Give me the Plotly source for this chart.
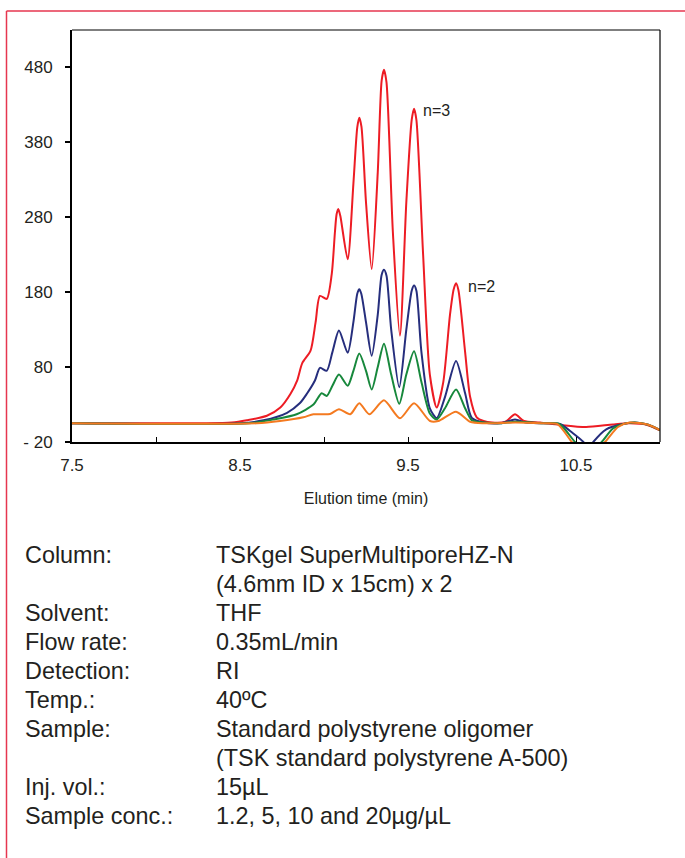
import plotly.graph_objects as go

# ---------------- data ----------------
red_x = [7.50, 8.30, 8.45, 8.54, 8.66, 8.74, 8.80, 8.84, 8.87, 8.92, 8.95, 8.976, 9.016, 9.046, 9.065,
         9.075, 9.085, 9.097, 9.141, 9.175, 9.198, 9.21, 9.223, 9.25, 9.284, 9.32, 9.343, 9.357, 9.372,
         9.41, 9.452, 9.49, 9.522, 9.536, 9.55, 9.59, 9.63, 9.671, 9.71, 9.75, 9.772, 9.786, 9.80,
         9.84, 9.87, 9.909, 9.95, 10.0, 10.08, 10.137, 10.19, 10.286, 10.40, 10.56, 10.72, 10.82,
         10.92, 11.0]
red_y = [5, 5, 6, 9, 15, 26, 44, 62, 85, 102, 140, 175, 171, 204, 260,
         284, 291, 282, 224, 325, 400, 413, 401, 300, 211, 340, 462, 477, 460,
         260, 122, 300, 410, 425, 410, 230, 70, 26, 60, 150, 184, 192, 183,
         100, 40, 13, 8, 6, 7, 17, 8, 6, 3, 0, 3.5, 5,
         3, -4.4]

navy_x = [7.5, 8.5, 8.64, 8.78, 8.857, 8.897, 8.946, 8.976, 9.016, 9.05, 9.089, 9.141, 9.175, 9.198,
          9.21, 9.222, 9.25, 9.284, 9.32, 9.343, 9.357, 9.372, 9.40, 9.448, 9.49, 9.522, 9.536, 9.55,
          9.58, 9.63, 9.671, 9.72, 9.786, 9.84, 9.88, 9.95, 10.05, 10.137, 10.2, 10.3, 10.405, 10.48,
          10.544, 10.574, 10.603, 10.68, 10.78, 10.85, 10.93, 11.0]
navy_y = [5, 5, 9, 19, 32, 44, 62, 79, 75, 100, 129, 99, 140, 178,
          184, 178, 140, 95, 150, 203, 210, 202, 130, 53, 130, 182, 189, 182,
          100, 25, 12, 40, 88, 45, 12, 6, 5, 10, 6, 5, 4, -8,
          -20, -30, -20, -3, 4, 6, 3, -4]

green_x = [7.5, 8.55, 8.698, 8.837, 8.937, 8.986, 9.016, 9.05, 9.089, 9.141, 9.175, 9.21, 9.25, 9.284,
           9.32, 9.357, 9.40, 9.448, 9.49, 9.536, 9.58, 9.63, 9.671, 9.72, 9.786, 9.84, 9.88, 9.95,
           10.05, 10.14, 10.3, 10.40, 10.494, 10.57, 10.653, 10.72, 10.8, 10.85, 10.93, 11.0]
green_y = [5, 5, 10, 17, 30, 45, 41.5, 55, 70, 55, 75, 98, 75, 50,
           80, 111, 70, 31, 70, 101, 60, 18, 10, 25, 50, 25, 9, 6,
           5, 7, 5, 4, -20, -38, -20, -2, 5, 6, 3, -4]

orange_x = [7.5, 8.6, 8.738, 8.877, 8.937, 9.036, 9.089, 9.156, 9.21, 9.27, 9.357, 9.452, 9.536,
            9.631, 9.68, 9.786, 9.87, 9.95, 10.14, 10.3, 10.39, 10.475, 10.57, 10.673, 10.75, 10.82,
            10.93, 11.0]
orange_y = [5, 5, 8, 13, 17, 17.5, 23.7, 17, 31.7, 17, 35.7, 11.7, 31.7,
            8, 8, 20.5, 7, 5, 6, 5, 4, -20, -42, -20, 0, 6,
            3, -4]

y_tickvals = [-20, 80, 180, 280, 380, 480]
y_ticktext = ["- 20", "80", "180", "280", "380", "480"]
x_tickvals = [7.5, 8.0, 8.5, 9.0, 9.5, 10.0, 10.5]
x_ticktext = ["7.5", "", "8.5", "", "9.5", "", "10.5"]

peak_labels = ["n=3", "n=2"]
peak_label_x = [9.58, 9.845]
peak_label_y = [422, 187]

cond_labels = ["Column:", "", "Solvent:", "Flow rate:", "Detection:", "Temp.:", "Sample:", "",
               "Inj. vol.:", "Sample conc.:"]
cond_values = ["TSKgel SuperMultiporeHZ-N", "(4.6mm ID x 15cm) x 2", "THF", "0.35mL/min", "RI",
               "40ºC", "Standard polystyrene oligomer", "(TSK standard polystyrene A-500)",
               "15µL", "1.2, 5, 10 and 20µg/µL"]

# ---------------- figure ----------------
W, H = 685, 858
L, R, T, B = 72, 25, 30, 416
PW = W - L - R
PH = H - T - B
FONT = "Liberation Sans, Arial, sans-serif"
TXT = "#231f20"


def px_to_paper_x(px):
    return (px - L) / PW


def py_to_paper_y(py):
    return (H - B - py) / PH


fig = go.Figure()
for xs, ys, col in [(red_x, red_y, "#ed1c24"), (navy_x, navy_y, "#262e7d"),
                    (green_x, green_y, "#17883c"), (orange_x, orange_y, "#f47a20")]:
    fig.add_trace(go.Scatter(x=xs, y=ys, mode="lines",
                             line=dict(color=col, width=2, shape="spline", smoothing=0.7),
                             showlegend=False, hoverinfo="skip"))

for t, x, y in zip(peak_labels, peak_label_x, peak_label_y):
    fig.add_annotation(x=x, y=y, text=t, showarrow=False, xanchor="left", yanchor="middle",
                       font=dict(family=FONT, size=16, color=TXT))

line_step = 29
first_center = 555
for i, (lab, val) in enumerate(zip(cond_labels, cond_values)):
    yc = first_center + i * line_step
    if lab:
        fig.add_annotation(xref="paper", yref="paper", x=px_to_paper_x(23), y=py_to_paper_y(yc),
                           text=lab, showarrow=False, xanchor="left", yanchor="middle",
                           font=dict(family=FONT, size=23.4, color=TXT))
    fig.add_annotation(xref="paper", yref="paper", x=px_to_paper_x(214), y=py_to_paper_y(yc),
                       text=val, showarrow=False, xanchor="left", yanchor="middle",
                       font=dict(family=FONT, size=23.4, color=TXT))

shapes = [
    # plot frame top/right
    dict(type="line", xref="paper", yref="paper", x0=0, x1=1, y0=1, y1=1,
         line=dict(color="black", width=1.2)),
    dict(type="line", xref="paper", yref="paper", x0=1, x1=1, y0=0, y1=1,
         line=dict(color="black", width=1.2)),
    # outer red border (top and left)
    dict(type="line", xref="paper", yref="paper", x0=px_to_paper_x(6.5), x1=px_to_paper_x(W),
         y0=py_to_paper_y(11), y1=py_to_paper_y(11), line=dict(color="#e6364f", width=1.5)),
    dict(type="line", xref="paper", yref="paper", x0=px_to_paper_x(6.5), x1=px_to_paper_x(6.5),
         y0=py_to_paper_y(11), y1=py_to_paper_y(H + 5), line=dict(color="#e6364f", width=1.5)),
]

fig.update_layout(
    width=W, height=H,
    margin=dict(l=L, r=R, t=T, b=B, pad=0),
    paper_bgcolor="white", plot_bgcolor="white",
    showlegend=False,
    shapes=shapes,
    font=dict(family=FONT, color=TXT),
    xaxis=dict(range=[7.5, 11.0], showgrid=False, zeroline=False, showline=True, linewidth=2,
               linecolor="black", ticks="inside", ticklen=5, tickwidth=1, tickcolor="black",
               tickvals=x_tickvals, ticktext=x_ticktext, tickfont=dict(size=17, color=TXT),
               ticklabelstandoff=7,
               title=dict(text="Elution time (min)", font=dict(size=16, color=TXT), standoff=18)),
    yaxis=dict(range=[-20, 530], showgrid=False, zeroline=False, showline=True, linewidth=2,
               linecolor="black", ticks="outside", ticklen=5, tickwidth=1.5, tickcolor="black",
               tickvals=y_tickvals, ticktext=y_ticktext, tickfont=dict(size=17, color=TXT),
               ticklabelstandoff=9),
)

fig.write_html("out.html", config={"displayModeBar": False},
               post_script="document.body.style.margin='0';document.body.style.overflow='hidden';")
